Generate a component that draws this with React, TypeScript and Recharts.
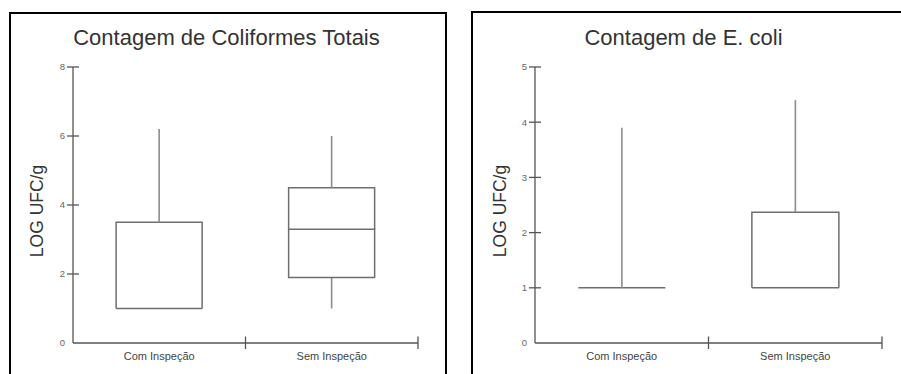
import { BarChart, Bar, XAxis, YAxis } from "recharts";

// groups shown on the x axis of both panels
const groups = ["Com Inspeção", "Sem Inspeção"];

// Coliformes totais (log UFC/g): five-number summaries per group
const coliMin = [1.0, 1.0];
const coliQ1 = [1.0, 1.9];
const coliMedian = [1.0, 3.3];
const coliQ3 = [3.5, 4.5];
const coliMax = [6.2, 6.0];
const coliTicks = [0, 2, 4, 6, 8];

// E. coli (log UFC/g)
const ecoliMin = [1.0, 1.0];
const ecoliQ1 = [1.0, 1.0];
const ecoliMedian = [1.0, 1.0];
const ecoliQ3 = [1.0, 2.37];
const ecoliMax = [3.9, 4.4];
const ecoliTicks = [0, 1, 2, 3, 4, 5];

const FONT = '"Liberation Sans", Arial, sans-serif';
const AXIS = "#555";
const BOX = "#6e6e6e";
const WHISKER = "#8c8c8c";

// stacked segments: invisible base, lower whisker, two box halves, upper whisker
const buildRows = (mn: number[], q1: number[], md: number[], q3: number[], mx: number[]) =>
  groups.map((name, i) => ({
    name,
    base: mn[i],
    lowW: q1[i] - mn[i],
    lowBox: md[i] - q1[i],
    highBox: q3[i] - md[i],
    highW: mx[i] - q3[i],
  }));

const coliRows = buildRows(coliMin, coliQ1, coliMedian, coliQ3, coliMax);
const ecoliRows = buildRows(ecoliMin, ecoliQ1, ecoliMedian, ecoliQ3, ecoliMax);

const Whisker = (props: any) => {
  const { x, y, width, height } = props;
  if (!height) return <g />;
  const cx = x + width / 2;
  return <line x1={cx} x2={cx} y1={y} y2={y + height} stroke={WHISKER} strokeWidth={1.6} />;
};

// lower half: bottom edge (q1), sides and median line; collapses to one line when flat
const LowBox = (props: any) => {
  const { x, y, width, height } = props;
  const h = height || 0;
  const d = h
    ? `M${x},${y} H${x + width} V${y + h} H${x} Z`
    : `M${x},${y} H${x + width}`;
  return <path d={d} fill="none" stroke={BOX} strokeWidth={1.5} />;
};

// upper half: sides and top edge (q3); the median is already drawn below it
const HighBox = (props: any) => {
  const { x, y, width, height } = props;
  if (!height) return <g />;
  return (
    <path
      d={`M${x},${y + height} V${y} H${x + width} V${y + height}`}
      fill="none"
      stroke={BOX}
      strokeWidth={1.5}
    />
  );
};

const YTick = ({ x, y, payload }: any) => (
  <g>
    {payload.value !== 0 && (
      <line x1={x - 6} x2={x + 6} y1={y} y2={y} stroke={AXIS} strokeWidth={1.3} />
    )}
    <text x={x - 8} y={y} dy="0.35em" textAnchor="end" fontSize={9.5} fill="#666" fontFamily={FONT}>
      {payload.value}
    </text>
  </g>
);

// category label in the middle, tick mark at the right edge of each band
const XTick = ({ x, y, payload }: any) => {
  const edge = payload.offset ? x + payload.offset : null;
  return (
    <g>
      {edge !== null && (
        <line x1={edge} x2={edge} y1={y - 6.5} y2={y + 6} stroke={AXIS} strokeWidth={1.3} />
      )}
      <text x={x} y={y + 17} textAnchor="middle" fontSize={11} fill="#444" fontFamily={FONT}>
        {payload.value}
      </text>
    </g>
  );
};

function BoxChart({ rows, max, ticks, width, margin }: any) {
  return (
    <BarChart width={width} height={374} data={rows} margin={margin} barCategoryGap="25%">
      <XAxis
        dataKey="name"
        height={1}
        interval={0}
        tickLine={false}
        tickSize={0}
        tickMargin={0}
        axisLine={{ stroke: AXIS, strokeWidth: 1.3 }}
        tick={<XTick />}
      />
      <YAxis
        type="number"
        domain={[0, max]}
        ticks={ticks}
        width={1}
        tickLine={false}
        tickSize={0}
        tickMargin={0}
        axisLine={{ stroke: AXIS, strokeWidth: 1.3 }}
        tick={<YTick />}
      />
      <Bar dataKey="base" stackId="b" fill="none" isAnimationActive={false} shape={() => <g />} />
      <Bar dataKey="lowW" stackId="b" isAnimationActive={false} shape={Whisker} />
      <Bar dataKey="lowBox" stackId="b" isAnimationActive={false} shape={LowBox} />
      <Bar dataKey="highBox" stackId="b" isAnimationActive={false} shape={HighBox} />
      <Bar dataKey="highW" stackId="b" isAnimationActive={false} shape={Whisker} />
    </BarChart>
  );
}

export default function App() {
  return (
    <div
      style={{
        position: "absolute",
        left: 0,
        top: 0,
        width: 901,
        height: 374,
        overflow: "hidden",
        background: "#fff",
        fontFamily: FONT,
      }}
    >
      {/* panel frames */}
      <div
        style={{
          position: "absolute",
          left: 9,
          top: 12,
          width: 438,
          height: 380,
          boxSizing: "border-box",
          borderLeft: "2px solid #000",
          borderTop: "2px solid #000",
          borderRight: "2px solid #000",
        }}
      />
      <div
        style={{
          position: "absolute",
          left: 471,
          top: 11,
          width: 450,
          height: 380,
          boxSizing: "border-box",
          borderLeft: "2px solid #000",
          borderTop: "2px solid #000",
        }}
      />

      <div style={{ position: "absolute", left: 0, top: 0 }}>
        <BoxChart
          rows={coliRows}
          max={8}
          ticks={coliTicks}
          width={450}
          margin={{ top: 67, right: 32, bottom: 30, left: 72 }}
        />
      </div>
      <div style={{ position: "absolute", left: 450, top: 0 }}>
        <BoxChart
          rows={ecoliRows}
          max={5}
          ticks={ecoliTicks}
          width={451}
          margin={{ top: 67, right: 19, bottom: 30, left: 84 }}
        />
      </div>

      {/* titles and y-axis captions */}
      <svg width={901} height={374} style={{ position: "absolute", left: 0, top: 0, pointerEvents: "none" }}>
        <text x={226.5} y={45} textAnchor="middle" fontSize={22} fill="#333" fontFamily={FONT}>
          Contagem de Coliformes Totais
        </text>
        <text x={683.5} y={44.5} textAnchor="middle" fontSize={22} fill="#333" fontFamily={FONT}>
          Contagem de E. coli
        </text>
        <text
          transform="translate(37,211) rotate(-90)"
          textAnchor="middle"
          dy="0.35em"
          fontSize={17.5}
          fill="#333"
          fontFamily={FONT}
        >
          LOG UFC/g
        </text>
        <text
          transform="translate(499.5,211) rotate(-90)"
          textAnchor="middle"
          dy="0.35em"
          fontSize={17.5}
          fill="#333"
          fontFamily={FONT}
        >
          LOG UFC/g
        </text>
      </svg>
    </div>
  );
}
